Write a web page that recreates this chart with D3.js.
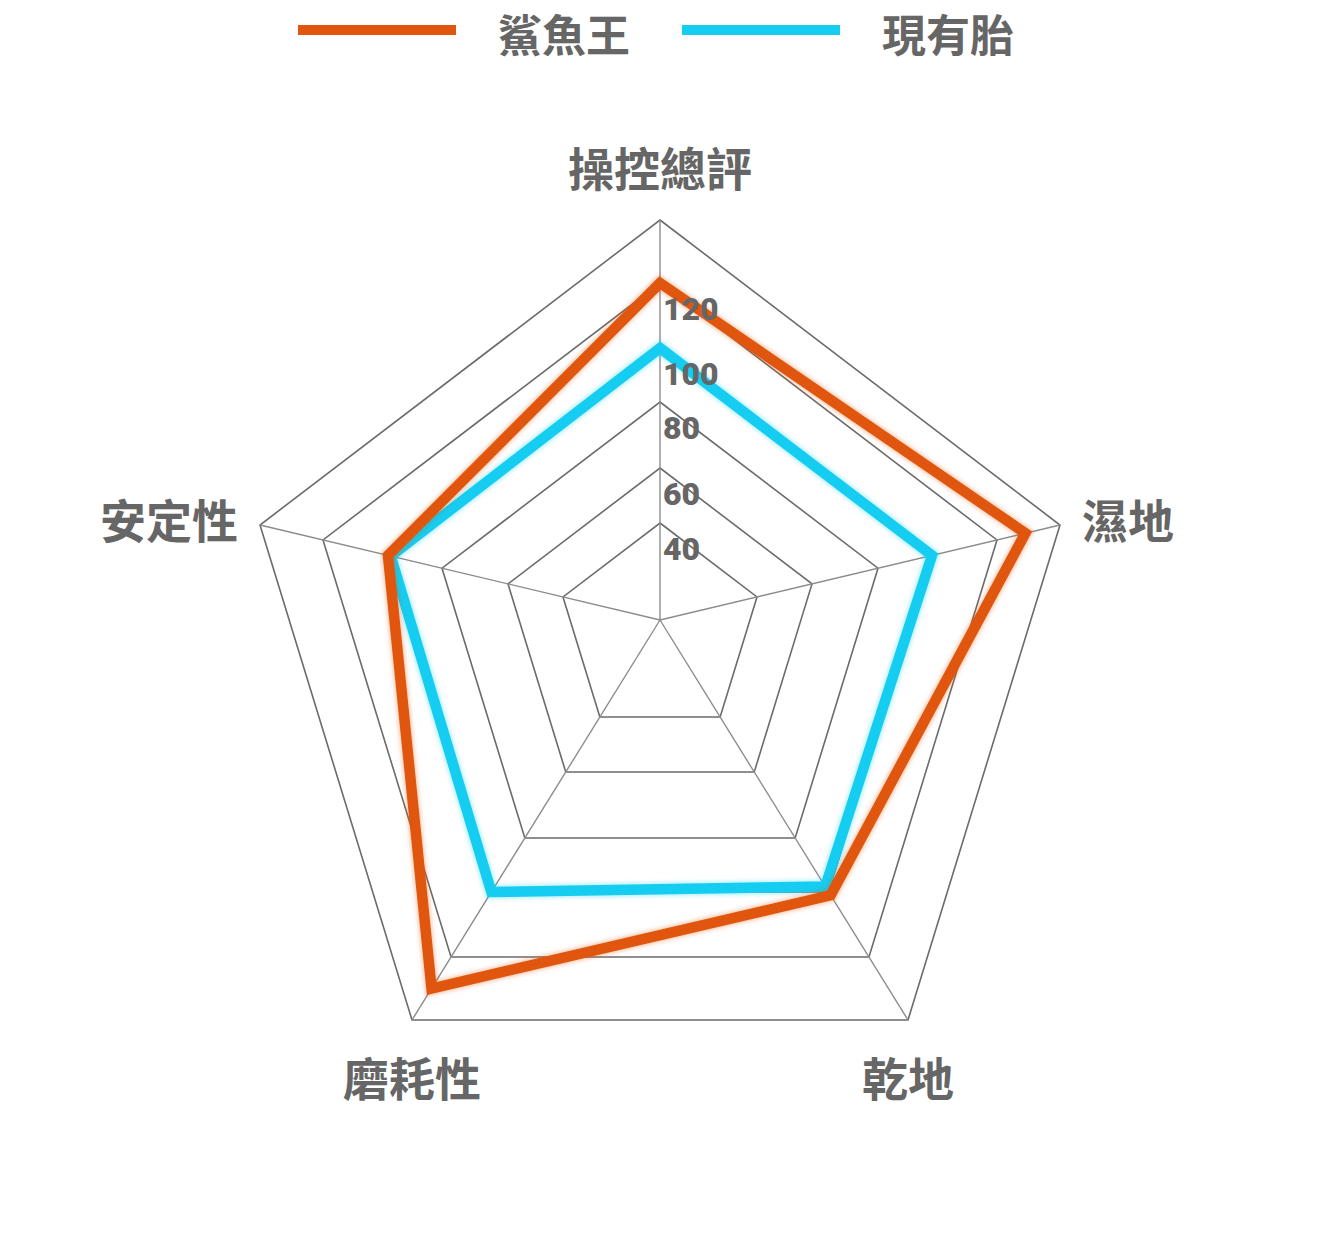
<!DOCTYPE html>
<html>
<head>
<meta charset="utf-8">
<script src="https://cdn.jsdelivr.net/npm/d3@7"></script>
<style>
  html, body { margin: 0; padding: 0; background: #fff; }
  svg { display: block; }
</style>
</head>
<body>
<div id="chart"></div>
<script>
// chart values
const axes = ["操控總評", "濕地", "乾地", "磨耗性", "安定性"];
const seriesNames = ["鯊魚王", "現有胎"];
const sharkKing = [120, 129, 101, 130, 100];
const currentTire = [100, 100, 98, 100, 99];
const ringValues = [40, 60, 80, 100, 120, 140];
const tickLabels = [40, 60, 80, 100, 120];

const width = 1320, height = 1240;
const cx = 660, cy = 620;
const colors = ["#e0560e", "#14cdf0"];
const textColor = "#666";
const cjk = "'Noto Sans CJK TC', 'Noto Sans CJK SC', sans-serif";

// the pentagon in the picture is not regular, so each spoke gets its own direction
const dirs = [[0, -1], [1, -0.2375], [0.62, 1], [-0.62, 1], [-1, -0.2375]];

// ring spacing
const r = d3.scaleLinear()
    .domain([40, 60, 80, 100, 120, 140])
    .range([97, 152, 218, 272, 337, 400]);

const pt = (v, i) => [cx + dirs[i][0] * r(v), cy + dirs[i][1] * r(v)];

const svg = d3.select("#chart").append("svg")
    .attr("width", width)
    .attr("height", height);

// soft halo the series lines have
const defs = svg.append("defs");
defs.append("filter")
    .attr("id", "glow")
    .attr("x", "-10%").attr("y", "-10%")
    .attr("width", "120%").attr("height", "120%")
    .append("feGaussianBlur")
    .attr("stdDeviation", 2);

const line = d3.line().curve(d3.curveLinearClosed);

// grid rings
svg.append("g")
    .attr("fill", "none")
    .attr("stroke", "#6b6b6b")
    .attr("stroke-width", 1.6)
    .selectAll("path")
    .data(ringValues)
    .join("path")
    .attr("d", v => line(axes.map((a, i) => pt(v, i))));

// spokes
svg.append("g")
    .attr("stroke", "#8c8c8c")
    .attr("stroke-width", 1.4)
    .selectAll("line")
    .data(axes)
    .join("line")
    .attr("x1", cx)
    .attr("y1", cy)
    .attr("x2", (a, i) => pt(140, i)[0])
    .attr("y2", (a, i) => pt(140, i)[1]);

// series, existing tyre under shark king
const series = [currentTire, sharkKing];
const seriesColor = [colors[1], colors[0]];
const sg = svg.append("g")
    .attr("fill", "none")
    .attr("stroke-linejoin", "miter");

series.forEach((d, k) => {
    const dStr = line(d.map((v, i) => pt(v, i)));
    sg.append("path")
        .attr("d", dStr)
        .attr("stroke", seriesColor[k])
        .attr("stroke-width", 13)
        .attr("stroke-opacity", 0.35)
        .attr("filter", "url(#glow)");
    sg.append("path")
        .attr("d", dStr)
        .attr("stroke", seriesColor[k])
        .attr("stroke-width", 10.5);
});

// tick labels on the top spoke
svg.append("g")
    .selectAll("text")
    .data(tickLabels)
    .join("text")
    .attr("x", cx + 3)
    .attr("y", v => pt(v, 0)[1] + 26)
    .attr("dominant-baseline", "central")
    .style("font-family", "Roboto, 'DejaVu Sans', sans-serif")
    .style("font-weight", 900)
    .style("font-size", "32px")
    .attr("fill", textColor)
    .text(d => d);

// axis labels
svg.append("g")
    .selectAll("text")
    .data(axes)
    .join("text")
    .attr("x", (a, i) => {
        const [x] = pt(140, i);
        if (Math.abs(dirs[i][0]) === 1) return x + dirs[i][0] * 22;
        return x;
    })
    .attr("y", (a, i) => {
        const [, y] = pt(140, i);
        if (dirs[i][0] === 0) return y - 54;
        if (dirs[i][1] > 0) return y + 56;
        return y - 7;
    })
    .attr("text-anchor", (a, i) => dirs[i][0] === 1 ? "start" : dirs[i][0] === -1 ? "end" : "middle")
    .attr("dominant-baseline", "central")
    .style("font-family", cjk)
    .style("font-weight", "bold")
    .style("font-size", "46px")
    .attr("fill", textColor)
    .text(d => d);

// legend
const legend = svg.append("g").attr("transform", "translate(298,30)");
const item = legend.selectAll("g")
    .data(seriesNames)
    .join("g")
    .attr("transform", (d, i) => `translate(${i * 384},0)`);
item.append("line")
    .attr("x1", 0).attr("x2", 158)
    .attr("stroke", (d, i) => colors[i])
    .attr("stroke-width", 10);
item.append("text")
    .attr("x", 200)
    .attr("y", 3)
    .attr("dominant-baseline", "central")
    .style("font-family", cjk)
    .style("font-weight", "bold")
    .style("font-size", "44px")
    .attr("fill", textColor)
    .text(d => d);
</script>
</body>
</html>
